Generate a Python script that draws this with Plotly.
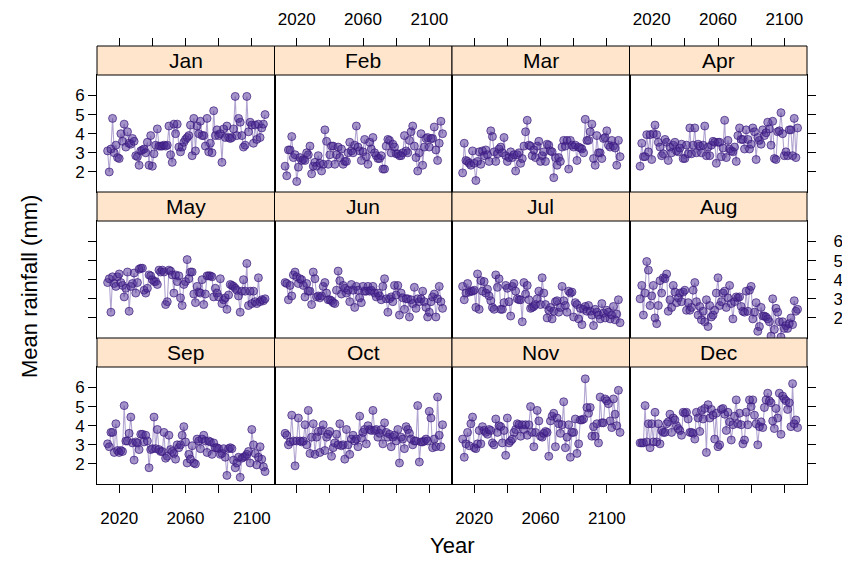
import plotly.graph_objects as go

months = ["Jan", "Feb", "Mar", "Apr", "May", "Jun", "Jul", "Aug", "Sep", "Oct", "Nov", "Dec"]
years = list(range(2013, 2109))

jan = [3.1, 2.0, 3.2, 4.8, 3.0, 3.4, 2.75, 2.7, 4.0, 3.6, 4.5, 3.3,
       4.1, 3.5, 3.45, 3.75, 3.6, 2.85, 2.8, 2.35, 3.1, 3.15, 3.2, 3.0,
       3.55, 2.35, 3.9, 2.3, 2.95, 3.4, 4.25, 3.35, 3.35, 3.35, 3.4, 3.35,
       3.4, 4.4, 2.9, 2.5, 4.5, 4.0, 4.5, 3.3, 3.05, 3.3, 3.55, 3.7,
       3.8, 3.9, 4.45, 2.85, 4.8, 3.1, 4.4, 4.0, 4.65, 3.9, 3.9, 3.35,
       4.8, 3.05, 3.5, 3.0, 5.2, 3.9, 4.2, 3.9, 4.0, 2.5, 4.25, 3.8,
       4.4, 3.8, 3.75, 3.8, 4.25, 5.95, 3.9, 4.8, 4.6, 3.9, 3.3, 3.4,
       5.95, 4.1, 4.6, 4.45, 3.5, 4.45, 3.7, 4.5, 3.8, 4.3, 4.5, 5.0]
feb = [2.3, 1.8, 3.15, 3.15, 3.85, 2.75, 2.9, 1.5, 2.25, 2.75,
       2.6, 2.65, 2.6, 3.0, 2.9, 3.35, 1.9, 2.3, 2.5, 2.3,
       2.85, 2.45, 2.05, 2.4, 4.2, 3.6, 2.4, 2.9, 3.35, 3.35,
       2.4, 2.9, 3.3, 2.75, 3.2, 2.4, 2.55, 2.55, 3.0, 3.55,
       3.1, 3.0, 3.4, 4.4, 3.3, 3.1, 2.6, 3.05, 3.7, 2.8,
       2.4, 3.55, 3.2, 3.8, 3.0, 2.85, 2.7, 2.7, 2.85, 2.15,
       2.15, 3.35, 3.7, 3.65, 3.0, 3.45, 3.3, 2.95, 2.95, 2.85,
       2.85, 3.0, 3.9, 3.1, 3.0, 3.65, 4.1, 4.4, 3.35, 2.75,
       2.05, 3.0, 4.0, 2.35, 3.3, 3.75, 3.8, 3.3, 3.75, 3.75,
       4.35, 3.15, 2.6, 3.5, 4.65, 4.0]
mar = [1.95, 3.5, 2.6, 2.55, 2.45, 2.35, 3.1, 2.45, 1.55, 2.55,
       3.05, 2.4, 3.1, 2.85, 3.15, 2.9, 2.55, 4.15, 3.85, 3.05,
       2.55, 2.95, 3.2, 3.3, 3.0, 3.8, 2.85, 2.55, 2.75, 3.05,
       2.75, 2.9, 2.05, 2.9, 3.0, 2.45, 2.7, 3.35, 4.1, 4.7,
       3.4, 3.35, 2.85, 3.15, 2.75, 3.35, 3.6, 2.55, 2.85, 3.05,
       2.55, 3.45, 3.4, 3.1, 3.05, 1.7, 2.75, 2.35, 2.75, 2.55,
       3.3, 3.65, 3.35, 3.65, 2.15, 3.65, 3.4, 3.3, 3.4, 2.6,
       3.3, 3.25, 3.2, 3.0, 4.75, 3.65, 3.65, 4.1, 4.5, 2.7,
       2.35, 3.9, 3.0, 3.0, 2.7, 3.75, 3.8, 4.15, 3.4, 3.3,
       3.65, 3.35, 3.25, 2.35, 3.65, 2.8]
apr = [2.3, 3.5, 2.8, 2.8, 3.95, 3.05, 3.95, 2.65, 4.0, 4.45,
       3.95, 3.55, 3.3, 2.85, 2.95, 3.7, 3.55, 2.6, 3.3, 3.0,
       3.4, 3.55, 3.1, 3.05, 3.25, 3.45, 2.7, 2.7, 3.4, 2.95,
       4.3, 2.95, 3.4, 4.3, 3.0, 3.45, 3.35, 3.0, 3.4, 4.4,
       2.85, 3.3, 2.85, 3.4, 3.6, 3.55, 2.45, 3.55, 3.55, 2.8,
       3.25, 4.7, 2.75, 3.65, 3.2, 3.1, 3.05, 3.3, 2.55, 3.9,
       4.3, 3.7, 3.7, 3.2, 4.2, 3.7, 3.2, 3.45, 4.3, 4.1,
       2.65, 3.8, 3.65, 3.45, 4.2, 3.9, 4.05, 4.6, 4.25, 3.4,
       4.65, 2.7, 2.65, 4.1, 4.15, 5.1, 4.0, 2.85, 3.05, 2.85,
       4.2, 4.2, 2.85, 4.8, 2.75, 4.3]
may = [3.85, 4.05, 2.3, 4.15, 3.8, 3.65, 4.15, 4.3, 3.85, 3.7,
       3.1, 3.55, 4.4, 2.35, 3.65, 3.8, 4.35, 3.3, 3.85, 4.55,
       4.6, 4.6, 3.45, 3.3, 3.55, 4.25, 4.2, 4.0, 3.9, 3.9,
       3.75, 4.5, 4.4, 4.5, 4.4, 2.7, 2.85, 4.5, 4.45, 4.25,
       3.3, 4.25, 3.9, 4.2, 3.05, 2.65, 3.75, 3.9, 5.05, 4.05,
       4.4, 4.4, 3.25, 2.8, 3.65, 3.35, 3.3, 4.0, 2.7, 3.25,
       4.2, 4.2, 4.2, 4.15, 3.1, 3.55, 3.3, 3.1, 4.05, 2.75,
       2.95, 3.05, 2.45, 3.2, 3.75, 3.7, 3.65, 3.55, 3.45, 3.15,
       2.3, 3.4, 4.0, 3.4, 4.85, 2.65, 3.4, 2.75, 3.4, 2.85,
       2.75, 4.1, 2.85, 2.95, 2.9, 3.0]
jun = [3.85, 3.8, 2.95, 3.7, 3.15, 4.25, 4.4, 4.15, 3.8, 4.05,
       4.0, 3.7, 3.1, 3.8, 3.4, 3.4, 2.7, 4.4, 4.05, 3.1,
       3.15, 3.05, 3.15, 3.65, 3.85, 3.3, 2.95, 2.95, 2.9, 2.8,
       2.75, 3.45, 4.45, 3.95, 3.25, 3.7, 3.55, 3.3, 3.45, 2.85,
       3.75, 3.45, 2.55, 3.65, 3.45, 3.05, 2.8, 3.65, 3.4, 3.4,
       3.65, 3.4, 3.45, 3.65, 3.3, 3.1, 3.3, 3.15, 2.95, 3.65,
       4.05, 3.0, 2.3, 3.0, 3.1, 2.85, 3.7, 3.2, 3.7, 2.15,
       3.3, 3.05, 2.45, 3.0, 3.0, 2.05, 2.95, 2.75, 3.6, 2.5,
       3.0, 2.85, 3.0, 3.4, 2.85, 2.55, 2.05, 2.3, 2.85, 3.1,
       3.25, 2.05, 3.0, 3.65, 2.85, 2.5]
jul = [3.65, 2.95, 3.3, 3.8, 3.35, 3.4, 3.4, 3.45, 2.55, 4.3,
       2.45, 3.95, 3.4, 3.9, 3.3, 3.5, 3.15, 2.9, 2.55, 2.45,
       4.25, 3.6, 4.05, 2.45, 2.45, 2.8, 3.7, 3.55, 2.85, 2.1,
       3.65, 3.8, 3.4, 3.0, 2.95, 2.95, 1.8, 3.85, 3.25, 3.7,
       2.95, 2.5, 2.55, 2.6, 2.7, 3.0, 3.4, 2.7, 4.1, 3.3,
       2.7, 2.0, 2.4, 2.55, 1.95, 2.35, 2.85, 2.9, 2.3, 2.55,
       3.65, 2.9, 2.65, 2.3, 3.4, 3.3, 3.35, 2.05, 2.8, 2.7,
       1.95, 2.5, 1.65, 2.45, 2.6, 2.35, 2.65, 2.35, 2.15, 1.6,
       2.45, 2.3, 2.15, 1.95, 2.75, 2.25, 2.0, 2.4, 2.3, 1.95,
       2.15, 2.6, 1.9, 2.2, 2.95, 1.75]
aug = [3.0, 3.7, 2.15, 3.3, 4.95, 4.5, 2.65, 3.15, 3.7, 2.0,
       1.7, 2.65, 3.95, 3.3, 4.1, 4.05, 4.3, 2.35, 2.95, 2.55,
       3.7, 3.35, 2.8, 3.05, 3.3, 2.85, 3.35, 3.45, 2.4, 2.8,
       2.4, 2.55, 3.45, 3.85, 2.85, 2.15, 2.6, 1.9, 2.35, 1.8,
       2.95, 1.55, 2.65, 2.05, 2.15, 2.4, 3.3, 4.1, 2.65, 2.85,
       3.3, 3.4, 2.55, 3.05, 3.7, 2.75, 1.95, 2.85, 3.1, 3.05,
       3.1, 2.6, 2.35, 2.3, 3.4, 2.35, 3.45, 3.65, 1.95, 2.3,
       2.8, 1.3, 1.55, 2.55, 2.1, 2.1, 2.05, 1.95, 1.8, 1.05,
       3.0, 1.4, 2.5, 2.3, 1.8, 1.0, 1.8, 1.45, 1.6, 1.45,
       1.7, 2.0, 1.65, 2.9, 2.35, 2.45]
sep = [3.05, 2.9, 3.65, 3.65, 2.6, 4.1, 2.7, 2.6, 2.7, 2.65,
       5.05, 3.2, 3.2, 3.6, 4.45, 3.1, 2.2, 3.15, 3.1, 2.75,
       3.55, 3.55, 3.15, 3.5, 3.2, 1.8, 2.75, 2.8, 4.45, 2.8,
       3.8, 2.75, 2.65, 2.65, 3.65, 2.3, 2.4, 3.5, 2.75, 2.65,
       2.55, 2.25, 3.0, 2.85, 3.0, 3.5, 3.95, 3.15, 2.05, 2.5,
       2.25, 2.95, 2.05, 2.0, 3.3, 3.2, 2.8, 3.3, 3.5, 3.2,
       2.6, 3.2, 3.15, 2.5, 3.1, 2.85, 2.85, 2.8, 2.5, 2.55,
       2.8, 2.35, 1.4, 2.8, 2.85, 2.8, 2.2, 1.8, 2.05, 2.35,
       1.3, 2.3, 2.35, 2.4, 2.5, 2.65, 2.05, 3.8, 3.0, 2.55,
       1.95, 2.35, 2.9, 2.25, 1.85, 1.6]
oct_ = [3.6, 3.5, 3.0, 3.15, 4.55, 3.2, 1.9, 3.2, 4.4, 3.2,
        3.15, 3.2, 4.05, 3.0, 4.8, 2.55, 3.4, 4.1, 2.5, 3.4,
        3.7, 2.6, 3.75, 4.05, 2.7, 3.4, 3.55, 3.7, 2.4, 2.85,
        3.1, 3.55, 3.0, 4.1, 2.95, 3.0, 2.25, 3.8, 3.0, 2.5,
        3.3, 3.5, 3.2, 3.3, 2.9, 4.5, 3.35, 3.65, 3.8, 3.05,
        4.0, 3.8, 3.75, 4.8, 3.75, 3.8, 3.4, 3.6, 3.8, 3.05,
        4.15, 3.65, 3.4, 3.55, 2.9, 3.4, 3.5, 3.2, 3.8, 2.05,
        3.4, 3.3, 2.8, 3.95, 3.8, 3.6, 3.3, 3.0, 3.2, 3.2,
        5.05, 2.1, 3.15, 3.15, 3.2, 3.3, 3.2, 4.75, 4.4, 2.85,
        3.3, 2.9, 5.5, 3.5, 2.9, 4.05]
nov = [3.3, 2.35, 3.05, 3.65, 2.95, 4.1, 4.45, 2.85, 2.8, 3.05,
       3.75, 3.05, 3.95, 3.75, 3.65, 3.55, 3.8, 3.75, 3.1, 3.0,
       4.35, 3.65, 4.0, 3.95, 3.1, 3.75, 2.45, 4.4, 3.1, 3.2,
       3.3, 3.65, 3.8, 4.1, 4.05, 3.45, 4.05, 3.8, 4.05, 3.5,
       4.05, 5.0, 3.65, 2.9, 3.65, 4.8, 4.25, 3.45, 3.4, 3.6,
       3.7, 3.65, 2.4, 4.25, 4.5, 4.65, 2.9, 4.4, 4.1, 3.6,
       4.05, 5.25, 2.85, 3.4, 4.05, 2.35, 3.65, 3.65, 4.35, 2.55,
       3.05, 4.3, 4.3, 4.35, 6.45, 4.95, 4.65, 4.95, 3.45, 3.95,
       3.45, 4.1, 3.1, 5.5, 4.15, 4.15, 5.4, 5.3, 5.15, 4.25,
       3.9, 5.4, 4.6, 4.0, 5.85, 3.65]
dec = [3.1, 3.1, 3.1, 5.05, 3.15, 4.1, 2.85, 4.1, 3.15, 4.7,
       3.15, 4.1, 3.05, 3.75, 3.65, 3.65, 4.1, 4.2, 4.6, 3.65,
       4.4, 4.3, 4.0, 3.85, 3.75, 3.5, 4.7, 4.65, 4.7, 4.35,
       3.65, 3.65, 3.6, 3.3, 4.7, 4.4, 3.7, 4.8, 4.35, 4.9,
       2.6, 5.1, 4.4, 4.85, 4.55, 3.3, 4.65, 2.9, 3.0, 4.85,
       4.9, 4.6, 3.75, 4.7, 4.2, 3.25, 4.05, 4.5, 5.35, 4.1,
       4.65, 4.05, 3.05, 3.25, 4.7, 4.05, 5.35, 5.0, 5.35, 4.55,
       4.1, 3.0, 3.95, 4.2, 3.9, 4.95, 5.35, 5.7, 5.3, 5.2,
       4.25, 3.85, 4.9, 4.4, 5.7, 3.55, 5.55, 5.4, 5.3, 4.85,
       5.2, 3.95, 6.2, 4.1, 4.3, 3.9]

series = [jan, feb, mar, apr, may, jun, jul, aug, sep, oct_, nov, dec]

x_tickvals = [2020, 2040, 2060, 2080, 2100]
x_ticktext = ["2020", "", "2060", "", "2100"]
y_tickvals = [2, 3, 4, 5, 6]
y_ticktext = ["2", "3", "4", "5", "6"]

# page has an 8px body margin; figure sized to fill the rest of the window
OFF = 8
W, H = 850 - 2 * OFF, 569 - 2 * OFF
col_px = [97, 274.5, 452, 629.5, 807]
panel_top = [75, 221, 367]
panel_bot = [192, 338, 484]
strip_h = 29
XR = [2006.6, 2113.7]
YR = [0.95, 7.07]

FONT = "Liberation Sans, Arial, Helvetica, sans-serif"
PT_FILL = "rgba(72,40,145,0.5)"
PT_EDGE = "rgba(60,25,125,0.7)"
LINE_C = "rgba(72,40,145,0.42)"
TICK_FS = 17

fig = go.Figure()
layout = {}
shapes = []
annotations = []

def px2x(p):
    return (p - OFF) / W

def px2y(p):
    return 1 - (p - OFF) / H

for i, (m, vals) in enumerate(zip(months, series)):
    r, c = divmod(i, 4)
    k = i + 1
    xname = "x" if k == 1 else f"x{k}"
    yname = "y" if k == 1 else f"y{k}"
    fig.add_trace(go.Scatter(
        x=years, y=vals, mode="lines+markers", xaxis=xname, yaxis=yname,
        line=dict(color=LINE_C, width=1.1),
        marker=dict(size=8, color=PT_FILL, line=dict(color=PT_EDGE, width=1)),
        showlegend=False, hoverinfo="x+y"))
    xd = [px2x(col_px[c]), px2x(col_px[c + 1])]
    yd = [px2y(panel_bot[r]), px2y(panel_top[r])]
    layout["xaxis" if k == 1 else f"xaxis{k}"] = dict(
        domain=xd, anchor=yname, range=XR, showline=True, mirror=True,
        linecolor="black", linewidth=1, showgrid=False, zeroline=False,
        ticks="outside" if r == 2 else "", ticklen=8, tickcolor="black",
        tickvals=x_tickvals, ticktext=x_ticktext, ticklabelstandoff=11,
        showticklabels=(r == 2 and c in (0, 2)), automargin=False,
        tickfont=dict(family=FONT, size=TICK_FS, color="black"))
    yside = "right" if c == 3 else "left"
    yticks = "outside" if c in (0, 3) else ""
    ylabels = (c == 0 and r in (0, 2)) or (c == 3 and r == 1)
    layout["yaxis" if k == 1 else f"yaxis{k}"] = dict(
        domain=yd, anchor=xname, range=YR, side=yside, showline=True, mirror=True,
        linecolor="black", linewidth=1, showgrid=False, zeroline=False,
        ticks=yticks, ticklen=8, tickcolor="black",
        tickvals=y_tickvals, ticktext=y_ticktext, showticklabels=ylabels,
        ticklabelstandoff=(14 if c == 3 else 0),
        automargin=False,
        tickfont=dict(family=FONT, size=TICK_FS, color="black"))
    st = panel_top[r] - strip_h
    shapes.append(dict(type="rect", xref="paper", yref="paper",
                       x0=xd[0], x1=xd[1], y0=px2y(panel_top[r]), y1=px2y(st),
                       fillcolor="#FFE5CC", line=dict(color="black", width=1)))
    annotations.append(dict(text=m, xref="paper", yref="paper",
                            x=(xd[0] + xd[1]) / 2, y=px2y(st + strip_h / 2),
                            xanchor="center", yanchor="middle", showarrow=False,
                            font=dict(family=FONT, size=21, color="black")))

for c in range(4):
    k = 13 + c
    base = "x" if c == 0 else f"x{c + 1}"
    ybase = "y" if c == 0 else f"y{c + 1}"
    layout[f"xaxis{k}"] = dict(
        overlaying=base, anchor="free", position=px2y(panel_top[0] - strip_h),
        side="top", domain=[px2x(col_px[c]), px2x(col_px[c + 1])], range=XR,
        showline=False, showgrid=False, zeroline=False,
        ticks="outside", ticklen=8, tickcolor="black", automargin=False,
        tickvals=x_tickvals, ticktext=x_ticktext, showticklabels=(c in (1, 3)),
        ticklabelstandoff=6,
        tickfont=dict(family=FONT, size=TICK_FS, color="black"))
    fig.add_trace(go.Scatter(x=[2050], y=[3], xaxis=f"x{k}", yaxis=ybase,
                             mode="markers", marker=dict(opacity=0),
                             showlegend=False, hoverinfo="skip"))

annotations.append(dict(text="Year", xref="paper", yref="paper",
                        x=px2x((col_px[0] + col_px[-1]) / 2), y=px2y(545),
                        xanchor="center", yanchor="middle", showarrow=False,
                        font=dict(family=FONT, size=22, color="black")))
annotations.append(dict(text="Mean rainfall (mm)", xref="paper", yref="paper",
                        x=px2x(29), y=px2y(287), textangle=-90,
                        xanchor="center", yanchor="middle", showarrow=False,
                        font=dict(family=FONT, size=22, color="black")))

fig.update_layout(**layout)
fig.update_layout(width=W, height=H,
                  margin=dict(l=0, r=0, t=0, b=0, autoexpand=False),
                  paper_bgcolor="white", plot_bgcolor="white",
                  shapes=shapes, annotations=annotations,
                  font=dict(family=FONT, color="black"))
fig.write_html("out.html")
